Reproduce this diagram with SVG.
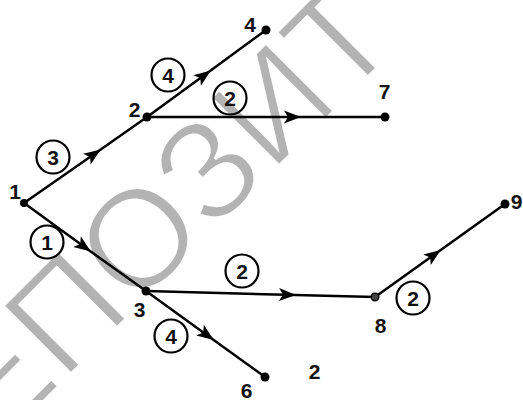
<svg xmlns="http://www.w3.org/2000/svg" width="523" height="400" viewBox="0 0 523 400">
<style>
.wm{font-family:"Liberation Sans",Arial,sans-serif;font-size:140px;fill:#b3b3b3;stroke:#fff;stroke-width:3}
.edge{fill:none;stroke:#000;stroke-width:2.5;marker-mid:url(#arr)}
.w circle{fill:none;stroke:#000;stroke-width:2.2}
.t{font-family:"Liberation Sans",Arial,sans-serif;font-size:21px;font-weight:bold;fill:#111;text-anchor:middle}
.dot{fill:#000}
</style>
<defs>
<marker id="arr" viewBox="-17 -7 18 14" refX="0" refY="0" markerWidth="18" markerHeight="14" markerUnits="userSpaceOnUse" orient="auto">
<path d="M1,0 L-16,-6.5 L-12,0 L-16,6.5 Z" fill="#000"/>
</marker>
</defs>
<rect width="523" height="400" fill="#fff"/>
<text class="wm" transform="translate(-3,448) rotate(-45)">ЕПОЗИТ</text>
<g id="connectors">
<g id="e1-2"><polyline class="edge" points="24,203 100,150 147,117"/><g class="w"><circle cx="53" cy="157" r="16.5"/><text class="t" x="53" y="164.5">3</text></g></g>
<g id="e2-4"><polyline class="edge" points="147,117 210,71 266,30"/><g class="w"><circle cx="168" cy="75" r="16.5"/><text class="t" x="168" y="82.5">4</text></g></g>
<g id="e2-7"><polyline class="edge" points="147,117 300,117 385,117"/><g class="w"><circle cx="230" cy="98" r="16.5"/><text class="t" x="230" y="105.5">2</text></g></g>
<g id="e1-3"><polyline class="edge" points="24,203 90,251 146,291"/><g class="w"><circle cx="47" cy="242" r="16.5"/><text class="t" x="47" y="249.5">1</text></g></g>
<g id="e3-6"><polyline class="edge" points="146,291 213,339.5 265,377"/><g class="w"><circle cx="171" cy="336" r="16.5"/><text class="t" x="171" y="343.5">4</text></g></g>
<g id="e3-8"><polyline class="edge" points="146,291 295,295 375,297"/><g class="w"><circle cx="242" cy="271" r="16.5"/><text class="t" x="242" y="278.5">2</text></g></g>
<g id="e8-9"><polyline class="edge" points="375,297 440,250.5 505,204"/><g class="w"><circle cx="413" cy="298" r="16.5"/><text class="t" x="413" y="305.5">2</text></g></g>
</g>
<g id="n1"><circle class="dot" cx="24" cy="203" r="4"/><text class="t" x="15" y="199">1</text></g>
<g id="n2"><circle class="dot" cx="147" cy="117" r="4.5"/><text class="t" x="134.5" y="117">2</text></g>
<g id="n4"><circle class="dot" cx="266" cy="30" r="4.5"/><text class="t" x="250" y="32">4</text></g>
<g id="n7"><circle class="dot" cx="385" cy="117" r="4.5"/><text class="t" x="384.5" y="99">7</text></g>
<g id="n3"><circle class="dot" cx="146" cy="291" r="4.5"/><text class="t" x="139.5" y="316.5">3</text></g>
<g id="n6"><circle class="dot" cx="265" cy="377" r="4.5"/><text class="t" x="246.5" y="397.5">6</text></g>
<g id="n8"><circle cx="375" cy="297" r="3.8" fill="#444" stroke="#000" stroke-width="1.5"/><text class="t" x="380.5" y="332.5">8</text></g>
<g id="n9"><circle class="dot" cx="505" cy="204" r="4.5"/><text class="t" x="516.5" y="208.5">9</text></g>
<text class="t" x="314.5" y="378.5">2</text>
</svg>
